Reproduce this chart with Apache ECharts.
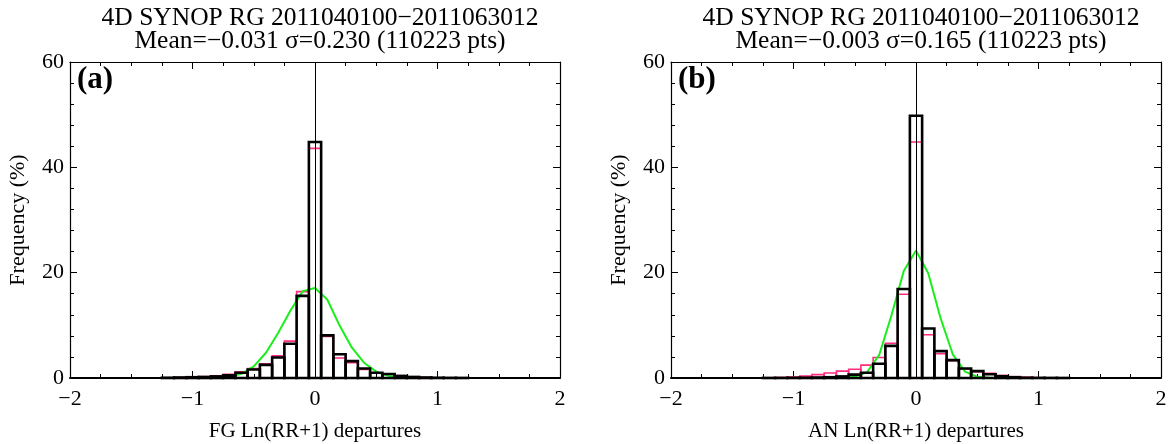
<!DOCTYPE html>
<html>
<head>
<meta charset="utf-8">
<title>4D SYNOP RG departures</title>
<script src="https://cdn.jsdelivr.net/npm/echarts@6/dist/echarts.min.js"></script>
<style>
  html, body { margin: 0; padding: 0; background: #fff; }
  #chart { width: 1171px; height: 444px; }
</style>
</head>
<body>
<div id="chart"></div>
<script>
// Histogram bin centres (bin width 0.1)
const binCenters = [-1.2, -1.1, -1.0, -0.9, -0.8, -0.7, -0.6, -0.5, -0.4, -0.3, -0.2, -0.1,
                    0.0, 0.1, 0.2, 0.3, 0.4, 0.5, 0.6, 0.7, 0.8, 0.9, 1.0, 1.1, 1.2];

// (a) first-guess departures: frequency (%) per bin
const fgBlack = [0.05, 0.1, 0.15, 0.2, 0.3, 0.5, 1.0, 1.6, 2.5, 3.9, 6.5, 15.6,
                 44.8, 8.1, 4.5, 3.2, 1.8, 1.0, 0.75, 0.4, 0.2, 0.1, 0.05, 0.03, 0.02];
const fgPink  = [0.05, 0.1, 0.15, 0.25, 0.4, 0.7, 1.2, 1.8, 2.7, 4.2, 7.0, 16.4,
                 43.6, 7.9, 3.8, 2.9, 1.6, 0.9, 0.7, 0.4, 0.2, 0.1, 0.05, 0.03, 0.02];

// (b) analysis departures: frequency (%) per bin
const anBlack = [0.01, 0.02, 0.03, 0.05, 0.1, 0.15, 0.3, 0.65, 1.0, 2.7, 6.1, 16.9,
                 49.8, 9.4, 5.1, 3.4, 1.8, 1.3, 0.7, 0.35, 0.15, 0.05, 0.03, 0.02, 0.01];
const anPink  = [0.05, 0.1, 0.2, 0.35, 0.65, 0.95, 1.3, 1.65, 2.45, 3.9, 6.6, 15.9,
                 44.8, 8.2, 4.6, 3.3, 1.7, 1.2, 0.9, 0.45, 0.25, 0.15, 0.05, 0.03, 0.02];

// Fitted normal curves, sampled at the same positions
const curveX = [-1.0, -0.9, -0.8, -0.7, -0.6, -0.5, -0.4, -0.3, -0.2, -0.1,
                0.0, 0.1, 0.2, 0.3, 0.4, 0.5, 0.6, 0.7, 0.8, 0.9, 1.0];
const fgCurve = [0.0, 0.01, 0.06, 0.25, 0.8, 2.2, 4.8, 8.6, 12.8, 16.5,
                 17.1, 14.9, 10.0, 5.8, 2.9, 1.2, 0.4, 0.1, 0.03, 0.0, 0.0];
const anCurve = [0.0, 0.0, 0.0, 0.0, 0.03, 0.26, 1.1, 4.4, 11.9, 20.3,
                 24.2, 19.9, 11.4, 4.5, 1.2, 0.23, 0.03, 0.0, 0.0, 0.0, 0.0];

// Axis ticks
const xTicks = [-2, -1, 0, 1, 2];
const yTicks = [0, 20, 40, 60];

const titleLines = [
  ['4D SYNOP RG 2011040100\u22122011063012', 'Mean=\u22120.031 \u03c3=0.230 (110223 pts)'],
  ['4D SYNOP RG 2011040100\u22122011063012', 'Mean=\u22120.003 \u03c3=0.165 (110223 pts)']
];
const xNames = ['FG Ln(RR+1) departures', 'AN Ln(RR+1) departures'];
const panelTags = ['(a)', '(b)'];

const FONT = '"Liberation Serif", "DejaVu Serif", serif';
const BIN_HALF = 0.05;
const PINK = '#ff2d7e';
const GREEN = '#1aee1a';

const fmtNum = v => (v < 0 ? '\u2212' + Math.abs(v) : String(v));

const grids = [
  { left: 70, right: 611, top: 62, bottom: 66, containLabel: false, outerBoundsMode: 'none' },
  { left: 671, right: 10, top: 62, bottom: 66, containLabel: false, outerBoundsMode: 'none' }
];

function histRender(color, width) {
  return function (params, api) {
    const c = api.value(0), v = api.value(1);
    const p0 = api.coord([c - BIN_HALF, v]);
    const p1 = api.coord([c + BIN_HALF, 0]);
    return {
      type: 'rect',
      shape: { x: p0[0], y: p0[1], width: p1[0] - p0[0], height: p1[1] - p0[1] },
      style: { fill: 'none', stroke: color, lineWidth: width }
    };
  };
}

function pairs(xs, ys) { return xs.map((x, i) => [x, ys[i]]); }

const xAxes = [], yAxes = [], series = [], titles = [], graphics = [];
const panels = [
  { black: fgBlack, pink: fgPink, curve: fgCurve },
  { black: anBlack, pink: anPink, curve: anCurve }
];

panels.forEach((p, g) => {
  const base = {
    gridIndex: g, type: 'value', min: xTicks[0], max: xTicks[xTicks.length - 1], interval: 1,
    axisLine: { show: true, onZero: false, lineStyle: { color: '#000', width: 1.2 } },
    axisTick: { show: true, inside: true, length: 7, lineStyle: { color: '#000', width: 1 } },
    minorTick: { show: true, splitNumber: 4, length: 4, lineStyle: { color: '#000', width: 1 } },
    splitLine: { show: false }
  };
  xAxes.push(Object.assign({}, base, {
    position: 'bottom',
    axisLine: { show: true, onZero: false, lineStyle: { color: '#000', width: 2 } },
    name: xNames[g], nameLocation: 'middle', nameGap: 43,
    nameTextStyle: { fontFamily: FONT, fontSize: 21, color: '#000' },
    axisLabel: { show: true, margin: 10, fontFamily: FONT, fontSize: 22, color: '#000', formatter: fmtNum }
  }));
  xAxes.push(Object.assign({}, base, { position: 'top', axisLabel: { show: false } }));

  const ybase = {
    gridIndex: g, type: 'value', min: yTicks[0], max: yTicks[yTicks.length - 1], interval: 20,
    axisLine: { show: true, onZero: false, lineStyle: { color: '#000', width: 1.2 } },
    axisTick: { show: true, inside: true, length: 7, lineStyle: { color: '#000', width: 1 } },
    minorTick: { show: true, splitNumber: 5, length: 4, lineStyle: { color: '#000', width: 1 } },
    splitLine: { show: false }
  };
  yAxes.push(Object.assign({}, ybase, {
    position: 'left',
    name: 'Frequency (%)', nameLocation: 'middle', nameGap: 41, nameRotate: 90,
    nameTextStyle: { fontFamily: FONT, fontSize: 22, color: '#000' },
    axisLabel: { show: true, margin: 6, fontFamily: FONT, fontSize: 22, color: '#000' }
  }));
  yAxes.push(Object.assign({}, ybase, { position: 'right', axisLabel: { show: false } }));

  const xi = g * 2, yi = g * 2;
  series.push({
    type: 'custom', xAxisIndex: xi, yAxisIndex: yi, silent: true,
    renderItem: histRender(PINK, 1.6),
    data: pairs(binCenters, p.pink), z: 2
  });
  series.push({
    type: 'line', xAxisIndex: xi, yAxisIndex: yi, silent: true,
    data: pairs(curveX, p.curve), showSymbol: false, symbol: 'none',
    lineStyle: { color: GREEN, width: 2 }, z: 3
  });
  series.push({
    type: 'custom', xAxisIndex: xi, yAxisIndex: yi, silent: true,
    renderItem: histRender('#000', 2.6),
    data: pairs(binCenters, p.black), z: 4,
    markLine: {
      silent: true, symbol: ['none', 'none'], label: { show: false },
      lineStyle: { color: '#000', width: 1, type: 'solid' },
      data: [{ xAxis: 0 }]
    }
  });

  const gr = grids[g];
  const cx = (gr.left + (1171 - gr.right)) / 2;
  titles.push({
    text: titleLines[g].join('\n'),
    left: cx, top: 2, textAlign: 'center',
    textStyle: { fontFamily: FONT, fontSize: 25.5, fontWeight: 'normal', color: '#000', lineHeight: 23 }
  });
  graphics.push({
    type: 'text', left: gr.left + 7, top: 64,
    style: { text: panelTags[g], font: 'bold 31px ' + FONT, fill: '#000' }
  });
});

const chart = echarts.init(document.getElementById('chart'), null, { renderer: 'canvas' });
chart.setOption({
  animation: false,
  backgroundColor: '#fff',
  title: titles,
  grid: grids,
  xAxis: xAxes,
  yAxis: yAxes,
  series: series,
  graphic: graphics
});
</script>
</body>
</html>
